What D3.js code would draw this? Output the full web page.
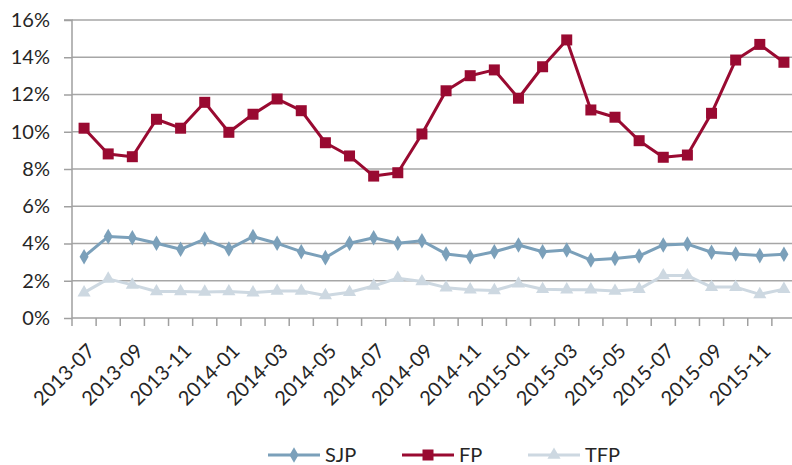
<!DOCTYPE html>
<html lang="en">
<head>
    <meta charset="utf-8">
    <title>SJP FP TFP</title>
    <style>
        body{ margin:0; background:#fff; font-family: Lato, sans-serif;}
        .axis path, .axis line{ stroke:#a0a0a0; stroke-width:1.5; }
        .axis text{ font-family: Lato, sans-serif; font-size:20px; fill:#262626; }
    </style>
    <script type="text/javascript" src="https://d3js.org/d3.v7.min.js"></script>
</head>
<body>
    <div class="chart"></div>
    <script type="text/javascript">
        const months = ["2013-07","2013-08","2013-09","2013-10","2013-11","2013-12",
            "2014-01","2014-02","2014-03","2014-04","2014-05","2014-06",
            "2014-07","2014-08","2014-09","2014-10","2014-11","2014-12",
            "2015-01","2015-02","2015-03","2015-04","2015-05","2015-06",
            "2015-07","2015-08","2015-09","2015-10","2015-11","2015-12"];
        const sjp = [3.29,4.37,4.31,4.01,3.69,4.24,3.70,4.37,4.01,3.56,3.24,4.01,
            4.31,4.01,4.15,3.44,3.29,3.56,3.92,3.56,3.65,3.11,3.20,3.33,
            3.92,3.97,3.53,3.44,3.35,3.42];
        const fp = [10.19,8.81,8.66,10.67,10.19,11.58,9.97,10.94,11.76,11.13,9.41,8.70,
            7.62,7.80,9.88,12.20,13.01,13.32,11.80,13.49,14.93,11.17,10.78,9.52,
            8.63,8.75,10.99,13.85,14.69,13.73];
        const tfp = [1.36,2.10,1.78,1.42,1.42,1.40,1.42,1.36,1.45,1.45,1.21,1.38,
            1.72,2.14,1.96,1.63,1.52,1.48,1.84,1.54,1.52,1.52,1.45,1.55,
            2.28,2.28,1.66,1.66,1.27,1.55];
        const yTicks = [0,2,4,6,8,10,12,14,16];
        const seriesNames = ["SJP","FP","TFP"];
        const seriesColors = ["#7ba0ba","#990a31","#cdd8e1"];

        const width = 792, height = 465;
        const margin = ({top: 20, left: 72, right: -4, bottom: 147});

        const svg = d3.select('.chart')
            .append('svg')
            .attr('width', width)
            .attr('height', height);

        const xScale = d3.scaleBand()
            .domain(months)
            .range([margin.left, width - margin.right]);
        const yScale = d3.scaleLinear()
            .domain([0, 16])
            .range([height - margin.bottom, margin.top]);

        // gridlines
        svg.append('g')
            .selectAll('line')
            .data(yTicks.slice(1))
            .enter()
            .append('line')
            .attr('x1', margin.left)
            .attr('x2', width - margin.right)
            .attr('y1', d => yScale(d))
            .attr('y2', d => yScale(d))
            .attr('stroke', '#a6a6a6')
            .attr('stroke-width', 1.5);

        // y axis
        const yAxis = d3.axisLeft(yScale)
            .tickValues(yTicks)
            .tickSize(8)
            .tickPadding(14)
            .tickFormat(d => d + '%');
        svg.append('g')
            .attr('class', 'axis')
            .attr('transform', `translate(${margin.left},0)`)
            .call(yAxis)
            .call(g => g.select('.domain').attr('d', `M-8,${yScale(16)}H0V${yScale(0)}`));

        // x axis: ticks on band boundaries
        const xBase = yScale(0);
        const xg = svg.append('g').attr('class', 'axis');
        xg.append('line')
            .attr('x1', margin.left).attr('x2', width - margin.right)
            .attr('y1', xBase).attr('y2', xBase);
        xg.selectAll('line.tick')
            .data(months)
            .enter()
            .append('line')
            .attr('class', 'tick')
            .attr('x1', d => xScale(d)).attr('x2', d => xScale(d))
            .attr('y1', xBase).attr('y2', xBase + 8);
        xg.selectAll('text')
            .data(months.filter((d, i) => i % 2 === 0))
            .enter()
            .append('text')
            .attr('text-anchor', 'end')
            .attr('dy', '0.72em')
            .attr('transform', d => `translate(${xScale(d) + xScale.bandwidth() / 2 + 2},${xBase + 24}) rotate(-45)`)
            .text(d => d);

        const cx = d => xScale(d) + xScale.bandwidth() / 2;
        const allSeries = [sjp, fp, tfp];

        const markers = [
            d3.symbol().type(d3.symbolDiamond).size(70),
            d3.symbol().type(d3.symbolSquare).size(121),
            d3.symbol().type(d3.symbolTriangle).size(75)
        ];

        // draw order: TFP, SJP, FP
        [2, 0, 1].forEach(si => {
            const vals = allSeries[si];
            const line = d3.line()
                .x((d, i) => cx(months[i]))
                .y(d => yScale(d));
            svg.append('path')
                .datum(vals)
                .attr('d', line)
                .attr('fill', 'none')
                .attr('stroke', seriesColors[si])
                .attr('stroke-width', 3)
                .attr('stroke-linejoin', 'round');
            svg.append('g')
                .selectAll('path')
                .data(vals)
                .enter()
                .append('path')
                .attr('d', markers[si])
                .attr('transform', (d, i) => `translate(${cx(months[i])},${yScale(d)})`)
                .attr('fill', seriesColors[si]);
        });

        // legend
        const legendX = [268, 402, 528];
        const legendY = 455;
        const legend = svg.append('g');
        seriesNames.forEach((name, i) => {
            legend.append('line')
                .attr('x1', legendX[i]).attr('x2', legendX[i] + 52)
                .attr('y1', legendY).attr('y2', legendY)
                .attr('stroke', seriesColors[i])
                .attr('stroke-width', 3);
            legend.append('path')
                .attr('d', markers[i])
                .attr('transform', `translate(${legendX[i] + 26},${legendY})`)
                .attr('fill', seriesColors[i]);
            legend.append('text')
                .attr('x', legendX[i] + 57)
                .attr('y', legendY + 7)
                .attr('font-size', 20)
                .attr('fill', '#262626')
                .text(name);
        });
    </script>
</body>
</html>
